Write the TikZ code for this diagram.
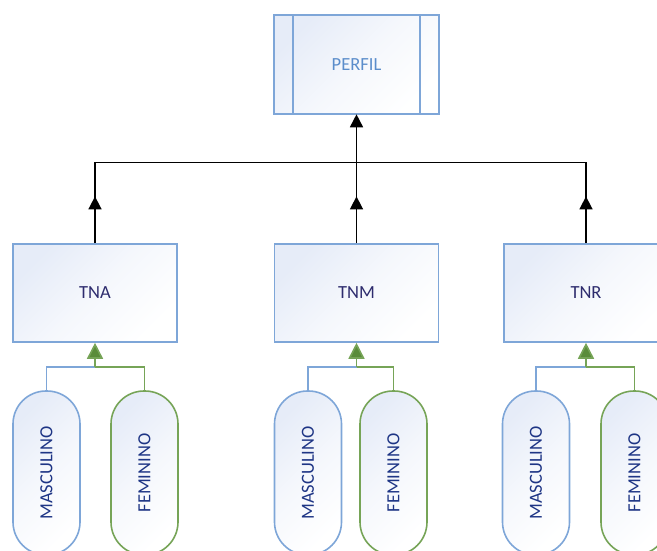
\documentclass[tikz,border=0pt]{standalone}
\usepackage{fontspec}
\setmainfont{Carlito}
\usetikzlibrary{arrows.meta,decorations.markings}

\definecolor{boxline}{HTML}{7EA6D8}
\definecolor{boxtint}{HTML}{E6ECF8}
\definecolor{greenline}{HTML}{76A457}
\definecolor{greentip}{HTML}{5A8C3A}
\definecolor{titleblue}{HTML}{5B8DCB}
\definecolor{labelnavy}{HTML}{2E2C6E}
\definecolor{pillnavy}{HTML}{1E3585}

\begin{document}
\begin{tikzpicture}[x=1pt,y=-1pt,
  labelfont/.style={font=\fontsize{18.5}{20}\selectfont},
  unitbox/.style={draw=boxline, line width=1.6pt, rectangle,
    top color=boxtint, bottom color=white, middle color=white!60!boxtint, shading angle=45,
    minimum width=164pt, minimum height=98pt, inner sep=0pt,
    labelfont, text=labelnavy},
  pillbase/.style={rectangle, rounded corners=33pt, line width=1.6pt,
    top color=boxtint, bottom color=white, middle color=white!60!boxtint, shading angle=45,
    minimum width=67pt, minimum height=164pt, inner sep=0pt,
    labelfont, text=pillnavy},
  malepill/.style={pillbase, draw=boxline},
  femalepill/.style={pillbase, draw=greenline},
  busline/.style={draw=black, line width=1.6pt},
  midarrow/.style={postaction={decorate}, decoration={markings,
    mark=at position 0.58 with {\arrow{Triangle[length=13pt,width=13pt]}}}},
  toparrow/.style={-{Triangle[length=13pt,width=13pt]}, shorten >=-0.5pt},
  blueconn/.style={draw=boxline, line width=1.6pt},
  greenconn/.style={draw=greenline, line width=1.6pt},
  greenarrow/.style={greenconn, -{Triangle[length=16pt,width=16pt,fill=greentip]}}
]
\useasboundingbox (0,0) rectangle (657,551);

% profile box with its two side strips
\node[unitbox, minimum width=165pt, minimum height=99pt, text=titleblue] (perfil) at (356.5,64.5) {PERFIL};
\draw[boxline, line width=1.6pt] ([xshift=20pt]perfil.north west) -- ([xshift=20pt]perfil.south west);
\draw[boxline, line width=1.6pt] ([xshift=-20pt]perfil.north east) -- ([xshift=-20pt]perfil.south east);

% the three groups
\node[unitbox] (tna) at (95,293) {TNA};
\node[unitbox] (tnm) at (356.5,293) {TNM};
\node[unitbox] (tnr) at (586,293) {TNR};

% bus joining the groups to the profile
\coordinate (busL) at (95,162.5);
\coordinate (busM) at (356.5,162.5);
\coordinate (busR) at (586,162.5);
\draw[busline] (busL) -- (busR);
\draw[busline, midarrow] (tna.north) -- (busL);
\draw[busline, midarrow] (tnm.north) -- (busM);
\draw[busline, midarrow] (tnr.north) -- (busR);
\draw[busline, toparrow] (busM) -- (perfil.south);

% gender pills
\node[malepill] (m1) at (46.5,473) {\rotatebox{90}{MASCULINO}};
\node[femalepill] (f1) at (144.5,473) {\rotatebox{90}{FEMININO}};
\node[malepill] (m2) at (308,473) {\rotatebox{90}{MASCULINO}};
\node[femalepill] (f2) at (393.5,473) {\rotatebox{90}{FEMININO}};
\node[malepill] (m3) at (536,473) {\rotatebox{90}{MASCULINO}};
\node[femalepill] (f3) at (634.5,473) {\rotatebox{90}{FEMININO}};

% junctions below each group
\coordinate (j1) at (95,367);
\coordinate (j2) at (356.5,367);
\coordinate (j3) at (586,367);

\draw[blueconn] (m1.north) |- (j1);
\draw[greenconn] (f1.north) |- (j1);
\draw[greenarrow] (j1) -- (tna.south);

\draw[blueconn] (m2.north) |- (j2);
\draw[greenconn] (f2.north) |- (j2);
\draw[greenarrow] (j2) -- (tnm.south);

\draw[blueconn] (m3.north) |- (j3);
\draw[greenconn] (f3.north) |- (j3);
\draw[greenarrow] (j3) -- (tnr.south);
\end{tikzpicture}
\end{document}
